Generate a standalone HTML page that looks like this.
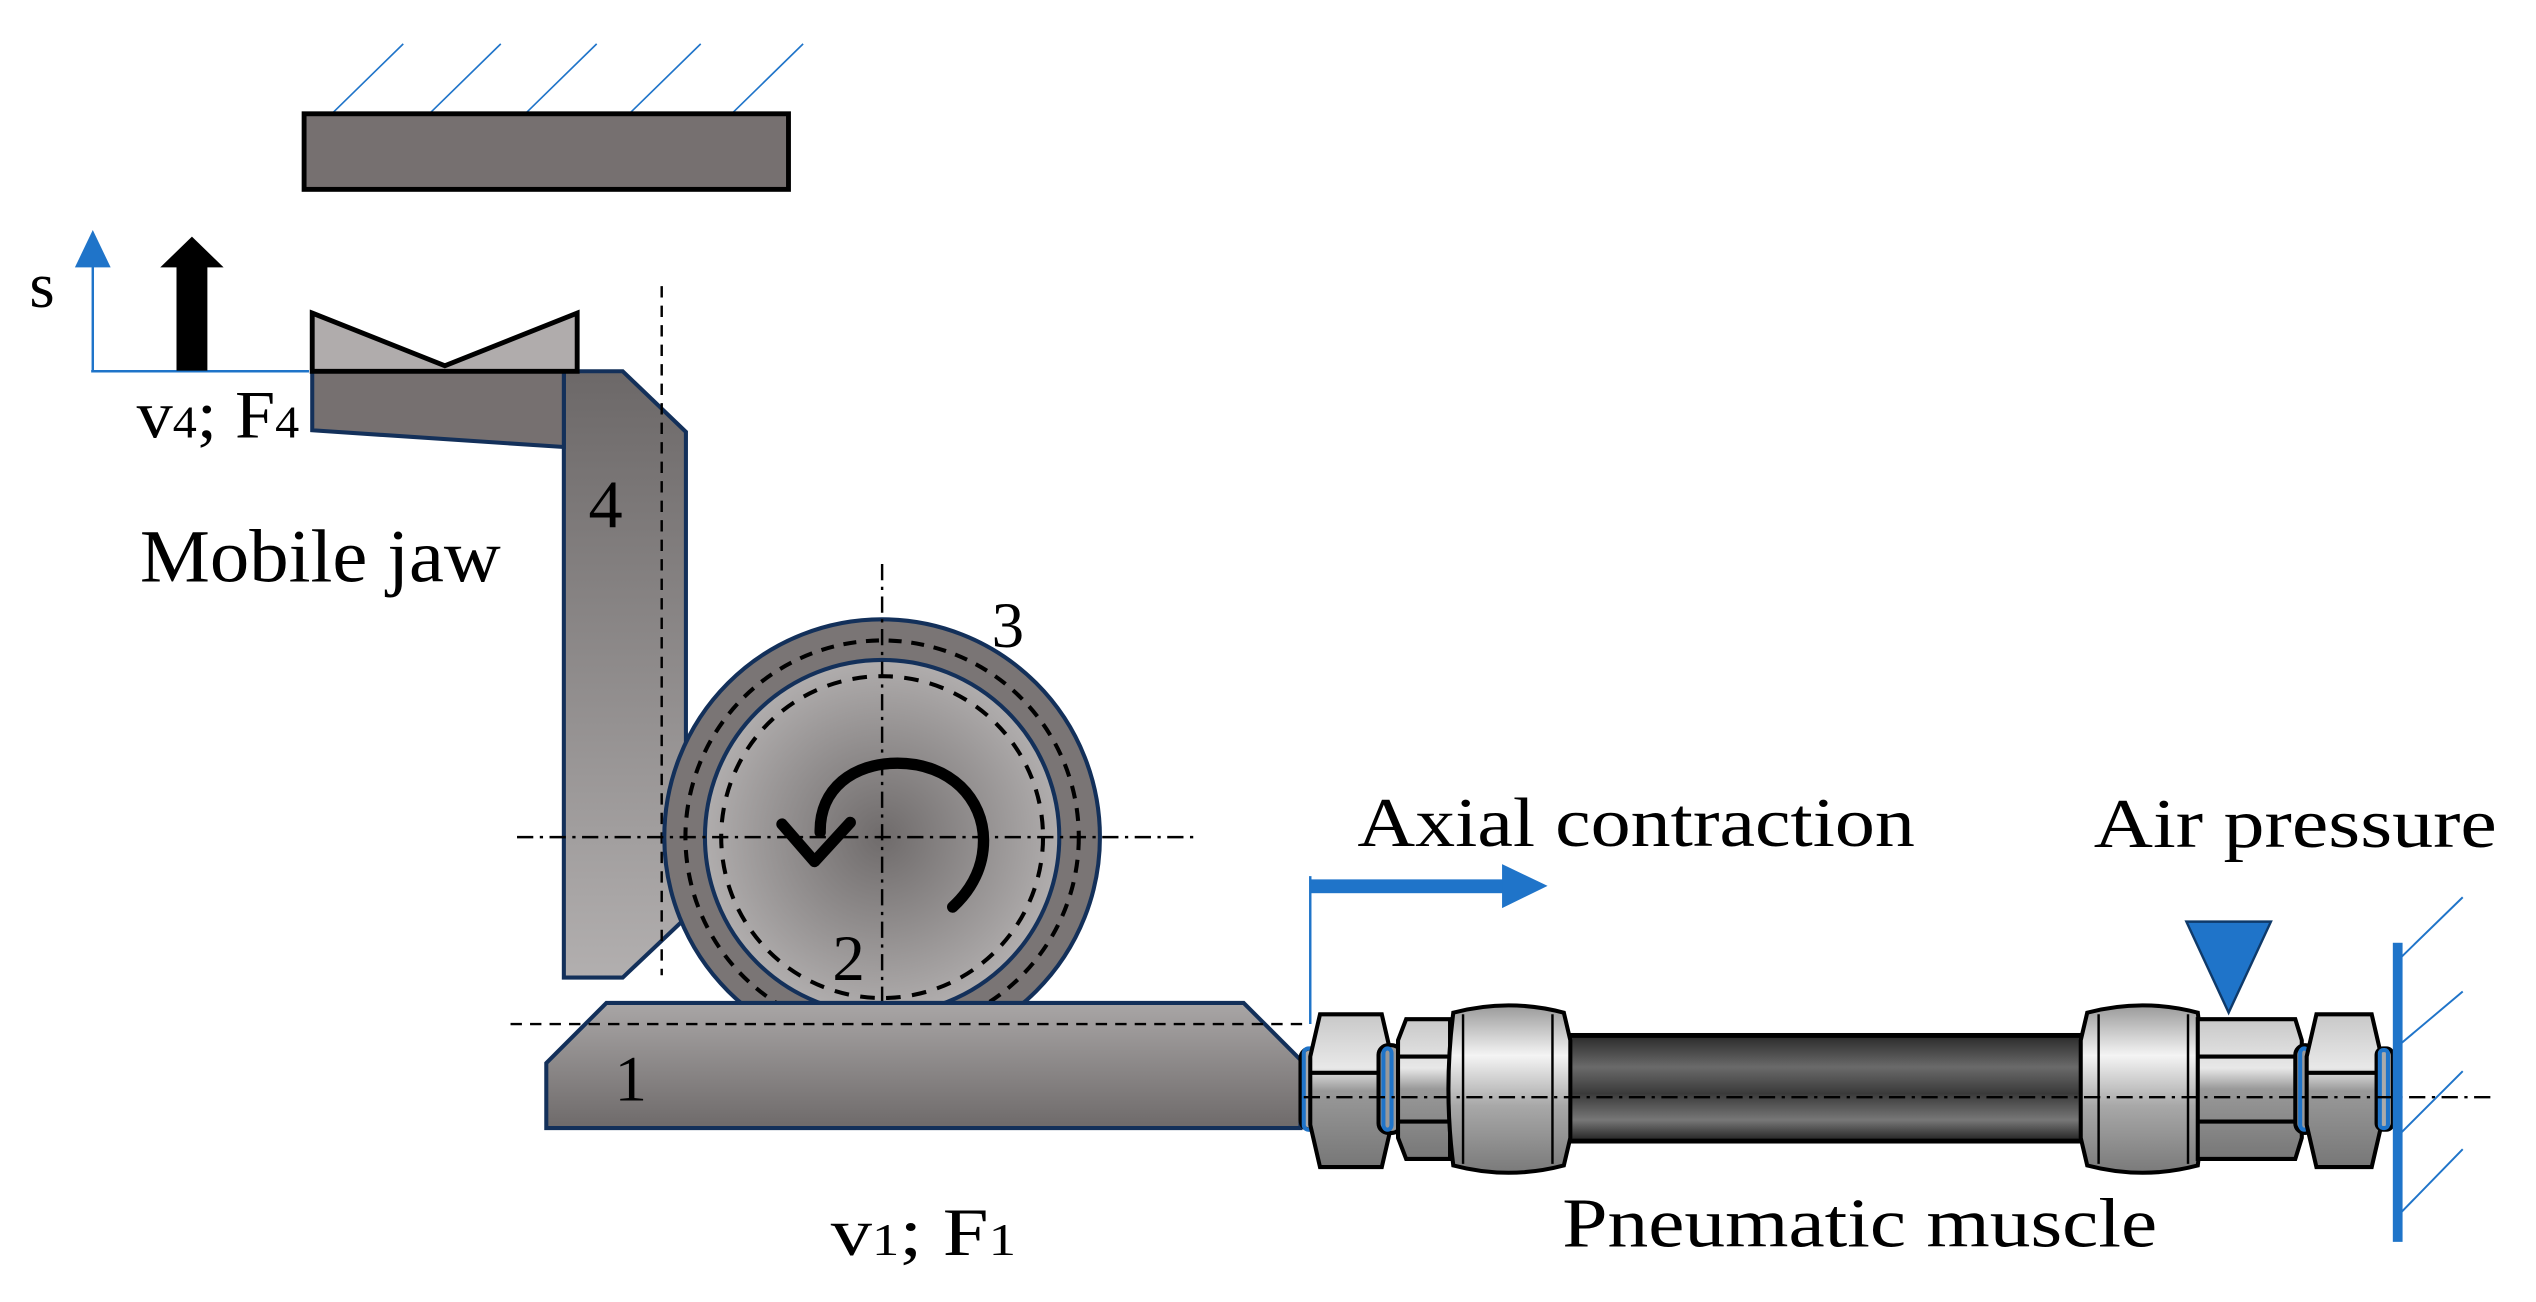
<!DOCTYPE html>
<html><head><meta charset="utf-8"><style>
html,body{margin:0;padding:0;background:#fff;}
svg{display:block;}
text{font-family:"Liberation Serif",serif;fill:#000;}
</style></head><body>
<svg width="2536" height="1302" viewBox="0 0 1560 801" xmlns="http://www.w3.org/2000/svg">
<defs>
<linearGradient id="g4" x1="0" y1="0" x2="0" y2="1">
<stop offset="0" stop-color="#6c6868"/><stop offset="1" stop-color="#b2afaf"/></linearGradient>
<linearGradient id="g1" x1="0" y1="0" x2="0" y2="1">
<stop offset="0" stop-color="#a9a6a6"/><stop offset="1" stop-color="#6e6a6a"/></linearGradient>
<radialGradient id="gc" cx="0.5" cy="0.5" r="0.5">
<stop offset="0" stop-color="#6f6b6b"/><stop offset="1" stop-color="#b0adad"/></radialGradient>
<linearGradient id="gm" x1="0" y1="0" x2="0" y2="1">
<stop offset="0" stop-color="#2a2a2a"/><stop offset="0.3" stop-color="#6a6a6a"/><stop offset="0.55" stop-color="#3a3a3a"/><stop offset="0.8" stop-color="#777"/><stop offset="1" stop-color="#222"/></linearGradient>
<linearGradient id="gb" x1="0" y1="0" x2="0" y2="1">
<stop offset="0" stop-color="#9a9a9a"/><stop offset="0.3" stop-color="#f4f4f4"/><stop offset="0.6" stop-color="#a8a8a8"/><stop offset="1" stop-color="#7a7a7a"/></linearGradient>
<linearGradient id="gh" x1="0" y1="0" x2="0" y2="1">
<stop offset="0" stop-color="#c8c8c8"/><stop offset="0.35" stop-color="#e8e8e8"/><stop offset="0.5" stop-color="#999"/><stop offset="1" stop-color="#777"/></linearGradient>
</defs>

<!-- ceiling -->
<g stroke="#1f74c9" stroke-width="1">
<line x1="204" y1="70" x2="248" y2="27"/><line x1="264" y1="70" x2="308" y2="27"/>
<line x1="323" y1="70" x2="367" y2="27"/><line x1="387" y1="70" x2="431" y2="27"/>
<line x1="450" y1="70" x2="494" y2="27"/>
</g>
<rect x="187" y="70" width="298" height="46.5" fill="#767070" stroke="#000" stroke-width="3"/>

<!-- s axis -->
<text x="18" y="189" font-size="40">s</text>
<line x1="57" y1="228.4" x2="57" y2="160" stroke="#1f74c9" stroke-width="1.5"/>
<line x1="56" y1="228.4" x2="190" y2="228.4" stroke="#1f74c9" stroke-width="1.5"/>
<polygon points="57,141.5 46,164.5 68,164.5" fill="#1f74c9"/>
<polygon points="118,145.6 98.5,164.5 108.5,164.5 108.5,228 127.5,228 127.5,164.5 137.5,164.5" fill="#000"/>

<!-- part 4 -->
<polygon points="346.8,228.4 383,228.4 421.9,265.7 421.9,564.6 383,601.4 346.8,601.4" fill="url(#g4)" stroke="#13305a" stroke-width="2.5"/>
<polygon points="192,228.4 346.8,228.4 346.8,275 192,264.7" fill="#767070" stroke="#13305a" stroke-width="2.5"/>
<polygon points="192,192.6 273.6,225 355,192.6 355,228.4 192,228.4" fill="#b0acac" stroke="#000" stroke-width="3"/>
<line x1="407" y1="176" x2="407" y2="600" stroke="#000" stroke-width="1.5" stroke-dasharray="7,5"/>
<text x="362" y="324.5" font-size="42">4</text>
<text x="86" y="357.7" font-size="46" textLength="222" lengthAdjust="spacingAndGlyphs">Mobile jaw</text>
<text x="84" y="269" font-size="42" textLength="100" lengthAdjust="spacingAndGlyphs">v<tspan font-size="28">4</tspan>; F<tspan font-size="28">4</tspan></text>

<!-- roller -->
<circle cx="542.6" cy="515" r="134" fill="#7a7575" stroke="#13305a" stroke-width="2.5"/>
<circle cx="542.6" cy="515" r="121" fill="none" stroke="#000" stroke-width="2.5" stroke-dasharray="8,6"/>
<circle cx="542.6" cy="515" r="109" fill="url(#gc)" stroke="#13305a" stroke-width="2.5"/>
<circle cx="542.6" cy="515" r="99" fill="none" stroke="#000" stroke-width="2.5" stroke-dasharray="9,7"/>
<line x1="318" y1="515" x2="736" y2="515" stroke="#000" stroke-width="1.5" stroke-dasharray="10,4,2,4"/>
<line x1="542.6" y1="347" x2="542.6" y2="616" stroke="#000" stroke-width="1.5" stroke-dasharray="10,4,2,4"/>
<path d="M504.5,512 C504,485 525,469.5 552,469.5 C585,469.5 605,492 605,517 C605,533 598,547 586,558" fill="none" stroke="#000" stroke-width="7" stroke-linecap="round"/>
<polyline points="481,507 501,530 523,506" fill="none" stroke="#000" stroke-width="7" stroke-linecap="round" stroke-linejoin="round"/>
<text x="610" y="398" font-size="40">3</text>
<text x="512" y="603" font-size="40">2</text>

<!-- base part 1 -->
<polygon points="373,617 765,617 800,652 800,694 336,694 336,654" fill="url(#g1)" stroke="#13305a" stroke-width="2.5"/>
<line x1="314" y1="630" x2="805" y2="630" stroke="#000" stroke-width="1.5" stroke-dasharray="7,5"/>
<text x="378" y="677" font-size="40">1</text>
<text x="511" y="772" font-size="42" textLength="114" lengthAdjust="spacingAndGlyphs">v<tspan font-size="28">1</tspan>; F<tspan font-size="28">1</tspan></text>

<!-- axial contraction -->
<text x="835" y="520.4" font-size="43" textLength="343" lengthAdjust="spacingAndGlyphs">Axial contraction</text>
<line x1="806" y1="539" x2="806" y2="630" stroke="#1f74c9" stroke-width="1.5"/>
<rect x="806" y="541" width="120" height="8.5" fill="#1f74c9"/>
<polygon points="924,531.6 952,545 924,558.7" fill="#1f74c9"/>

<!-- air pressure -->
<text x="1288" y="521" font-size="43" textLength="248" lengthAdjust="spacingAndGlyphs">Air pressure</text>
<polygon points="1345,567 1397,567 1371,623" fill="#1f74c9" stroke="#0f3a6a" stroke-width="1.5"/>

<!-- muscle -->
<rect x="959" y="637" width="328" height="65" fill="url(#gm)" stroke="#000" stroke-width="3"/>
<g stroke="#000" stroke-width="2.5">
<rect x="800" y="645" width="14" height="50" rx="6" fill="#aaa"/>
<rect x="802" y="645" width="6" height="50" rx="3" fill="none" stroke="#1f74c9" stroke-width="2.5"/>
<polygon points="812,624 850,624 856,650 856,692 850,718 812,718 806,692 806,650" fill="url(#gh)"/>
<line x1="806" y1="660" x2="856" y2="660"/>
<rect x="848" y="643" width="14" height="54" rx="6" fill="#999"/>
<rect x="851" y="645" width="5" height="50" rx="3" fill="none" stroke="#1f74c9" stroke-width="2.5"/>
<polygon points="865,627 892,627 892,713 865,713 860,700 860,640" fill="url(#gh)"/>
<line x1="860" y1="650" x2="892" y2="650"/><line x1="860" y1="690" x2="892" y2="690"/>
<path d="M894,623 Q928,614 962,623 L966,640 L966,700 L962,717 Q928,726 894,717 Q888,670 894,623 Z" fill="url(#gb)"/>
<line x1="900" y1="624" x2="900" y2="716" stroke-width="1.5"/><line x1="955" y1="624" x2="955" y2="716" stroke-width="1.5"/>

<path d="M1284,623 Q1318,614 1352,623 Q1358,670 1352,717 Q1318,726 1284,717 L1280,700 L1280,640 Z" fill="url(#gb)"/>
<line x1="1291" y1="624" x2="1291" y2="716" stroke-width="1.5"/><line x1="1346" y1="624" x2="1346" y2="716" stroke-width="1.5"/>
<polygon points="1352,627 1412,627 1416,640 1416,700 1412,713 1352,713" fill="url(#gh)"/>
<line x1="1352" y1="650" x2="1416" y2="650"/><line x1="1352" y1="690" x2="1416" y2="690"/>
<rect x="1412" y="643" width="12" height="54" rx="6" fill="#999"/>
<rect x="1415" y="645" width="5" height="50" rx="3" fill="none" stroke="#1f74c9" stroke-width="2.5"/>
<polygon points="1425,624 1459,624 1465,650 1465,692 1459,718 1425,718 1419,692 1419,650" fill="url(#gh)"/>
<line x1="1419" y1="660" x2="1465" y2="660"/>
<rect x="1462" y="645" width="10" height="50" rx="4" fill="#aaa"/>
<rect x="1464" y="646" width="5" height="48" rx="2" fill="none" stroke="#1f74c9" stroke-width="2.5"/>
</g>
<line x1="802" y1="675" x2="1536" y2="675" stroke="#000" stroke-width="1.5" stroke-dasharray="10,4,2,4"/>
<text x="961" y="767" font-size="43" textLength="366" lengthAdjust="spacingAndGlyphs">Pneumatic muscle</text>

<!-- wall -->
<rect x="1472" y="580" width="6" height="184" fill="#1f74c9"/>
<g stroke="#1f74c9" stroke-width="1.2">
<line x1="1477" y1="589" x2="1515" y2="552"/><line x1="1477" y1="642" x2="1515" y2="610"/>
<line x1="1477" y1="697" x2="1515" y2="659"/><line x1="1477" y1="746" x2="1515" y2="707"/>
</g>
</svg>
</body></html>
